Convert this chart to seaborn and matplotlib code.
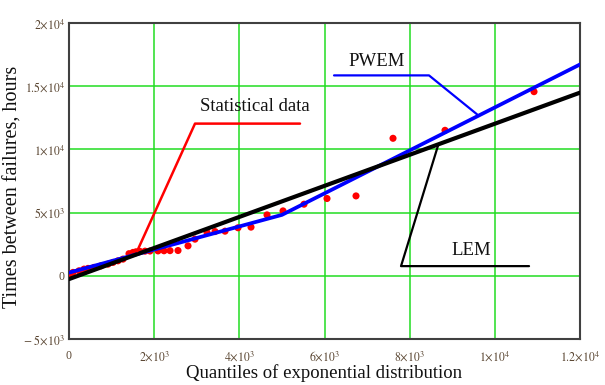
import matplotlib
matplotlib.use('Agg')
import matplotlib.pyplot as plt
import pandas as pd
import seaborn as sns

# ---- data ----
quantiles = [23, 94, 235, 352, 446, 587, 751, 916, 1033, 1151, 1268, 1409, 1503, 1573,
             1667, 1785, 1902, 2090, 2231, 2372, 2560, 2795, 2959, 3241, 3429, 3664,
             3969, 4274, 4650, 5026, 5519, 6059, 6740, 7609, 8830, 10920]
times = [174, 269, 395, 529, 585, 664, 790, 924, 1059, 1185, 1319, 1750, 1850, 1900,
         1930, 1950, 1960, 1970, 1980, 1990, 2000, 2370, 2899, 3429, 3500, 3531,
         3800, 3850, 4819, 5135, 5664, 6115, 6320, 10878, 11510, 14568]

pwem_x = [0, 5000, 12000]
pwem_y = [250, 4820, 16720]
lem_x = [0, 12000]
lem_y = [-260, 14490]

# leader lines for the labels (data coordinates)
stat_leader_x = [5425, 2959, 1600]
stat_leader_y = [12040, 12040, 1950]
pwem_leader_x = [6224, 8454, 9582]
pwem_leader_y = [15855, 15855, 12775]
lem_leader_x = [8673, 7797, 10803]
lem_leader_y = [10380, 766, 766]

x_ticks = [0, 2000, 4000, 6000, 8000, 10000, 12000]
x_tick_labels = ['0', r'$2{\times}10^{3}$', r'$4{\times}10^{3}$', r'$6{\times}10^{3}$',
                 r'$8{\times}10^{3}$', r'$1{\times}10^{4}$', r'$1.2{\times}10^{4}$']
y_ticks = [-5000, 0, 5000, 10000, 15000, 20000]
y_tick_labels = [r'$-\ 5{\times}10^{3}$', '0', r'$5{\times}10^{3}$', r'$1{\times}10^{4}$',
                 r'$1.5{\times}10^{4}$', r'$2{\times}10^{4}$']

sns.set_theme(style='white')
plt.rcParams['font.family'] = ['Liberation Serif', 'DejaVu Serif']
plt.rcParams['mathtext.fontset'] = 'stix'

fig = plt.figure(figsize=(6.05, 3.85), dpi=100)
ax = fig.add_axes([69 / 605, 1 - 339 / 385, 511 / 605, 316 / 385])

df_pts = pd.DataFrame({'q': quantiles, 't': times})
df_pwem = pd.DataFrame({'q': pwem_x, 't': pwem_y})
df_lem = pd.DataFrame({'q': lem_x, 't': lem_y})

sns.scatterplot(data=df_pts, x='q', y='t', ax=ax, color='#ff0000', s=26,
                edgecolor='none', zorder=3)
sns.lineplot(data=df_pwem, x='q', y='t', ax=ax, color='#0000ff', lw=2.7, zorder=4)
sns.lineplot(data=df_lem, x='q', y='t', ax=ax, color='#000000', lw=3.0, zorder=5)

ax.plot(stat_leader_x, stat_leader_y, color='#ff0000', lw=1.8, zorder=6)
ax.plot(pwem_leader_x, pwem_leader_y, color='#0000ff', lw=1.6, zorder=6)
ax.plot(lem_leader_x, lem_leader_y, color='#000000', lw=1.6, zorder=6)

ax.text(4370, 13370, 'Statistical data', fontsize=13.5, ha='center', va='center', color='#111111')
ax.text(7233, 16920, 'PWEM', fontsize=13.5, ha='center', va='center', color='#111111')
ax.text(9457, 1975, 'LEM', fontsize=13.5, ha='center', va='center', color='#111111')

ax.set_xlim(0, 12000)
ax.set_ylim(-5000, 20000)
ax.set_xticks(x_ticks)
ax.set_xticklabels(x_tick_labels)
ax.set_yticks(y_ticks)
ax.set_yticklabels(y_tick_labels)
ax.tick_params(axis='both', length=0, labelsize=8.5, labelcolor='#5a4632')
ax.tick_params(axis='x', pad=8)
ax.tick_params(axis='y', pad=3)

ax.grid(True, color='#22dd22', lw=1.1)
ax.set_axisbelow(True)
for sp in ax.spines.values():
    sp.set_color('#404040')
    sp.set_linewidth(1.5)
    sp.set_visible(True)

ax.set_xlabel('Quantiles of exponential distribution', fontsize=13.5, color='#111111', labelpad=0)
ax.set_ylabel('Times between failures, hours', fontsize=14.5, color='#111111',
              va='center', ha='center')
ax.yaxis.set_label_coords(-0.11, 0.48)

fig.savefig('out.png', dpi=100)
